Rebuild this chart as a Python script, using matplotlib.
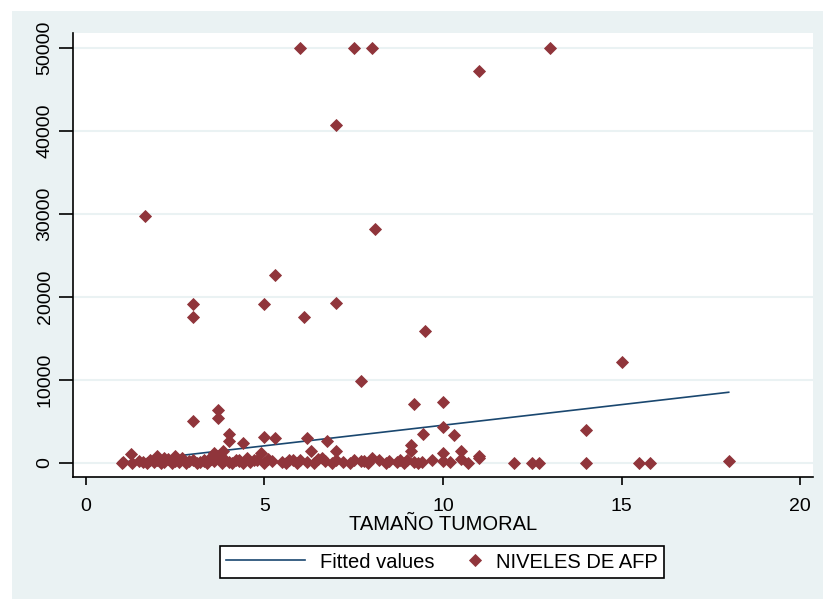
import numpy as np
import matplotlib
matplotlib.use('Agg')
import matplotlib.pyplot as plt
from matplotlib.patches import Rectangle
from matplotlib.legend_handler import HandlerLine2D

plt.rcParams['font.family'] = ['Liberation Sans', 'DejaVu Sans']

# tamano tumoral (cm) vs AFP
afp_x = [1.65, 3.0, 3.0, 3.0, 3.7, 3.7, 4.0, 4.0, 4.4, 5.0, 5.0, 5.3, 5.3,
         6.0, 6.1, 6.2, 6.3, 6.75, 7.0, 7.0, 7.0, 7.5, 7.7, 8.0, 8.1,
         9.2, 9.1, 9.5, 9.45, 10.0, 10.0, 10.0, 10.3, 10.5, 11.0, 11.0, 11.0,
         13.0, 14.0, 15.0, 18.0, 3.6, 4.9, 1.25, 2.0, 2.5, 9.1, 3.85, 3.85,
         1.0, 1.05, 1.3, 1.5, 1.6, 1.7, 1.8, 1.9, 2.0, 2.1, 2.2, 2.3, 2.4,
         2.5, 2.6, 2.7, 2.8, 2.9, 3.0, 3.1, 3.2, 3.3, 3.4, 3.5, 3.6, 3.7,
         3.8, 3.9, 4.0, 4.1, 4.2, 4.3, 4.4, 4.5, 4.6, 4.8, 5.0, 5.1, 5.2,
         5.5, 5.6, 5.8, 5.9, 6.0, 6.2, 6.4, 6.5, 6.7, 6.9, 7.0, 7.2, 7.4,
         7.5, 7.7, 7.9, 8.0, 8.2, 8.4, 8.5, 8.7, 8.9, 9.0, 9.2, 9.3, 9.7,
         10.0, 10.2, 10.5, 10.7, 12.0, 12.5, 12.7, 14.0, 15.5, 15.8,
         2.2, 3.5, 4.3, 5.7, 6.6, 7.8, 8.8, 3.3, 4.7, 9.4]
afp_y = [29700, 19100, 17600, 5050, 6350, 5450, 3450, 2650, 2450, 19100,
         3150, 22600, 2950, 50000, 17600, 2950, 1450, 2650, 40700, 19250,
         1450, 50000, 9900, 50000, 28200, 7150, 2150, 15900, 3450, 7350,
         4300, 1150, 3350, 1450, 47200, 850, 550, 50000, 4000, 12150, 250,
         1150, 1150, 1050, 900, 900, 1400, 1400, 500,
         50, 100, 0, 200, 100, 0, 300, 100, 400, 0, 150, 500, 0,
         200, 100, 600, 0, 250, 300, 0, 100, 400, 0, 500, 200, 700,
         0, 300, 100, 0, 400, 200, 0, 600, 100, 300, 0, 500, 200,
         100, 0, 400, 0, 300, 100, 0, 500, 200, 0, 300, 100, 0,
         400, 200, 0, 600, 300, 0, 200, 100, 0, 400, 100, 0, 300,
         200, 100, 500, 0, 50, 50, 50, 50, 50, 50,
         600, 700, 400, 300, 600, 200, 400, 250, 350, 150]

# linear fit as drawn (end points)
fit_x = [1.0, 18.0]
fit_y = [80, 8520]

xticks = [0, 5, 10, 15, 20]
yticks = [0, 10000, 20000, 30000, 40000, 50000]

bg = '#EAF2F3'
maroon = '#90353B'
navy = '#1A476F'


class MarkerAtRight(HandlerLine2D):
    # stata puts the legend marker right next to its label;
    # with numpoints=1 the marker goes in the middle of xdata
    def get_xdata(self, legend, xdescent, ydescent, width, height, fontsize):
        x1 = -xdescent + width
        xd = np.array([x1 - 0.6 * fontsize, x1])
        return xd, xd


fig = plt.figure(figsize=(8.23, 5.99), dpi=100)
fig.patch.set_facecolor('white')
fig.patches.append(Rectangle((12/823., 0), 1, 1 - 11/599., transform=fig.transFigure,
                             facecolor=bg, edgecolor='none', zorder=-10))

ax = fig.add_axes([73/823., 1 - 477/599., (813 - 73)/823., (477 - 33)/599.])
ax.set_facecolor('white')

ax.plot(fit_x, fit_y, color=navy, lw=1.2, label='Fitted values', zorder=2)
pts, = ax.plot(afp_x, afp_y, ls='none', marker='D', ms=5.8, mfc=maroon, mec=maroon,
               mew=0.6, label='NIVELES DE AFP', zorder=3)

ax.set_xlim(-0.36, 20.36)
ax.set_ylim(-1690, 51800)
ax.set_xticks(xticks)
ax.set_yticks(yticks)
ax.set_yticklabels([str(v) for v in yticks], rotation=90, va='center')
ax.tick_params(axis='x', length=6, width=1.2, pad=9, labelsize=14)
ax.tick_params(axis='y', length=10, width=1.2, pad=4, labelsize=14)
ax.grid(axis='y', color=bg, lw=1.5, zorder=0)
ax.set_axisbelow(True)

for s in ['top', 'right']:
    ax.spines[s].set_visible(False)
for s in ['left', 'bottom']:
    ax.spines[s].set_linewidth(1.2)

ax.set_xlabel('TAMAÑO TUMORAL', fontsize=14.5, labelpad=0)

leg = fig.legend(loc='center', bbox_to_anchor=(442/823., 1 - 562/599.), ncol=2,
                 fontsize=14.5, frameon=True, fancybox=False, edgecolor='black',
                 framealpha=1, handlelength=3.9, columnspacing=-1.6,
                 borderpad=0.3, borderaxespad=0, handletextpad=0.75,
                 handler_map={pts: MarkerAtRight(numpoints=1)})
leg.get_frame().set_linewidth(1.2)

fig.savefig('out.png', dpi=100, facecolor=fig.get_facecolor())
